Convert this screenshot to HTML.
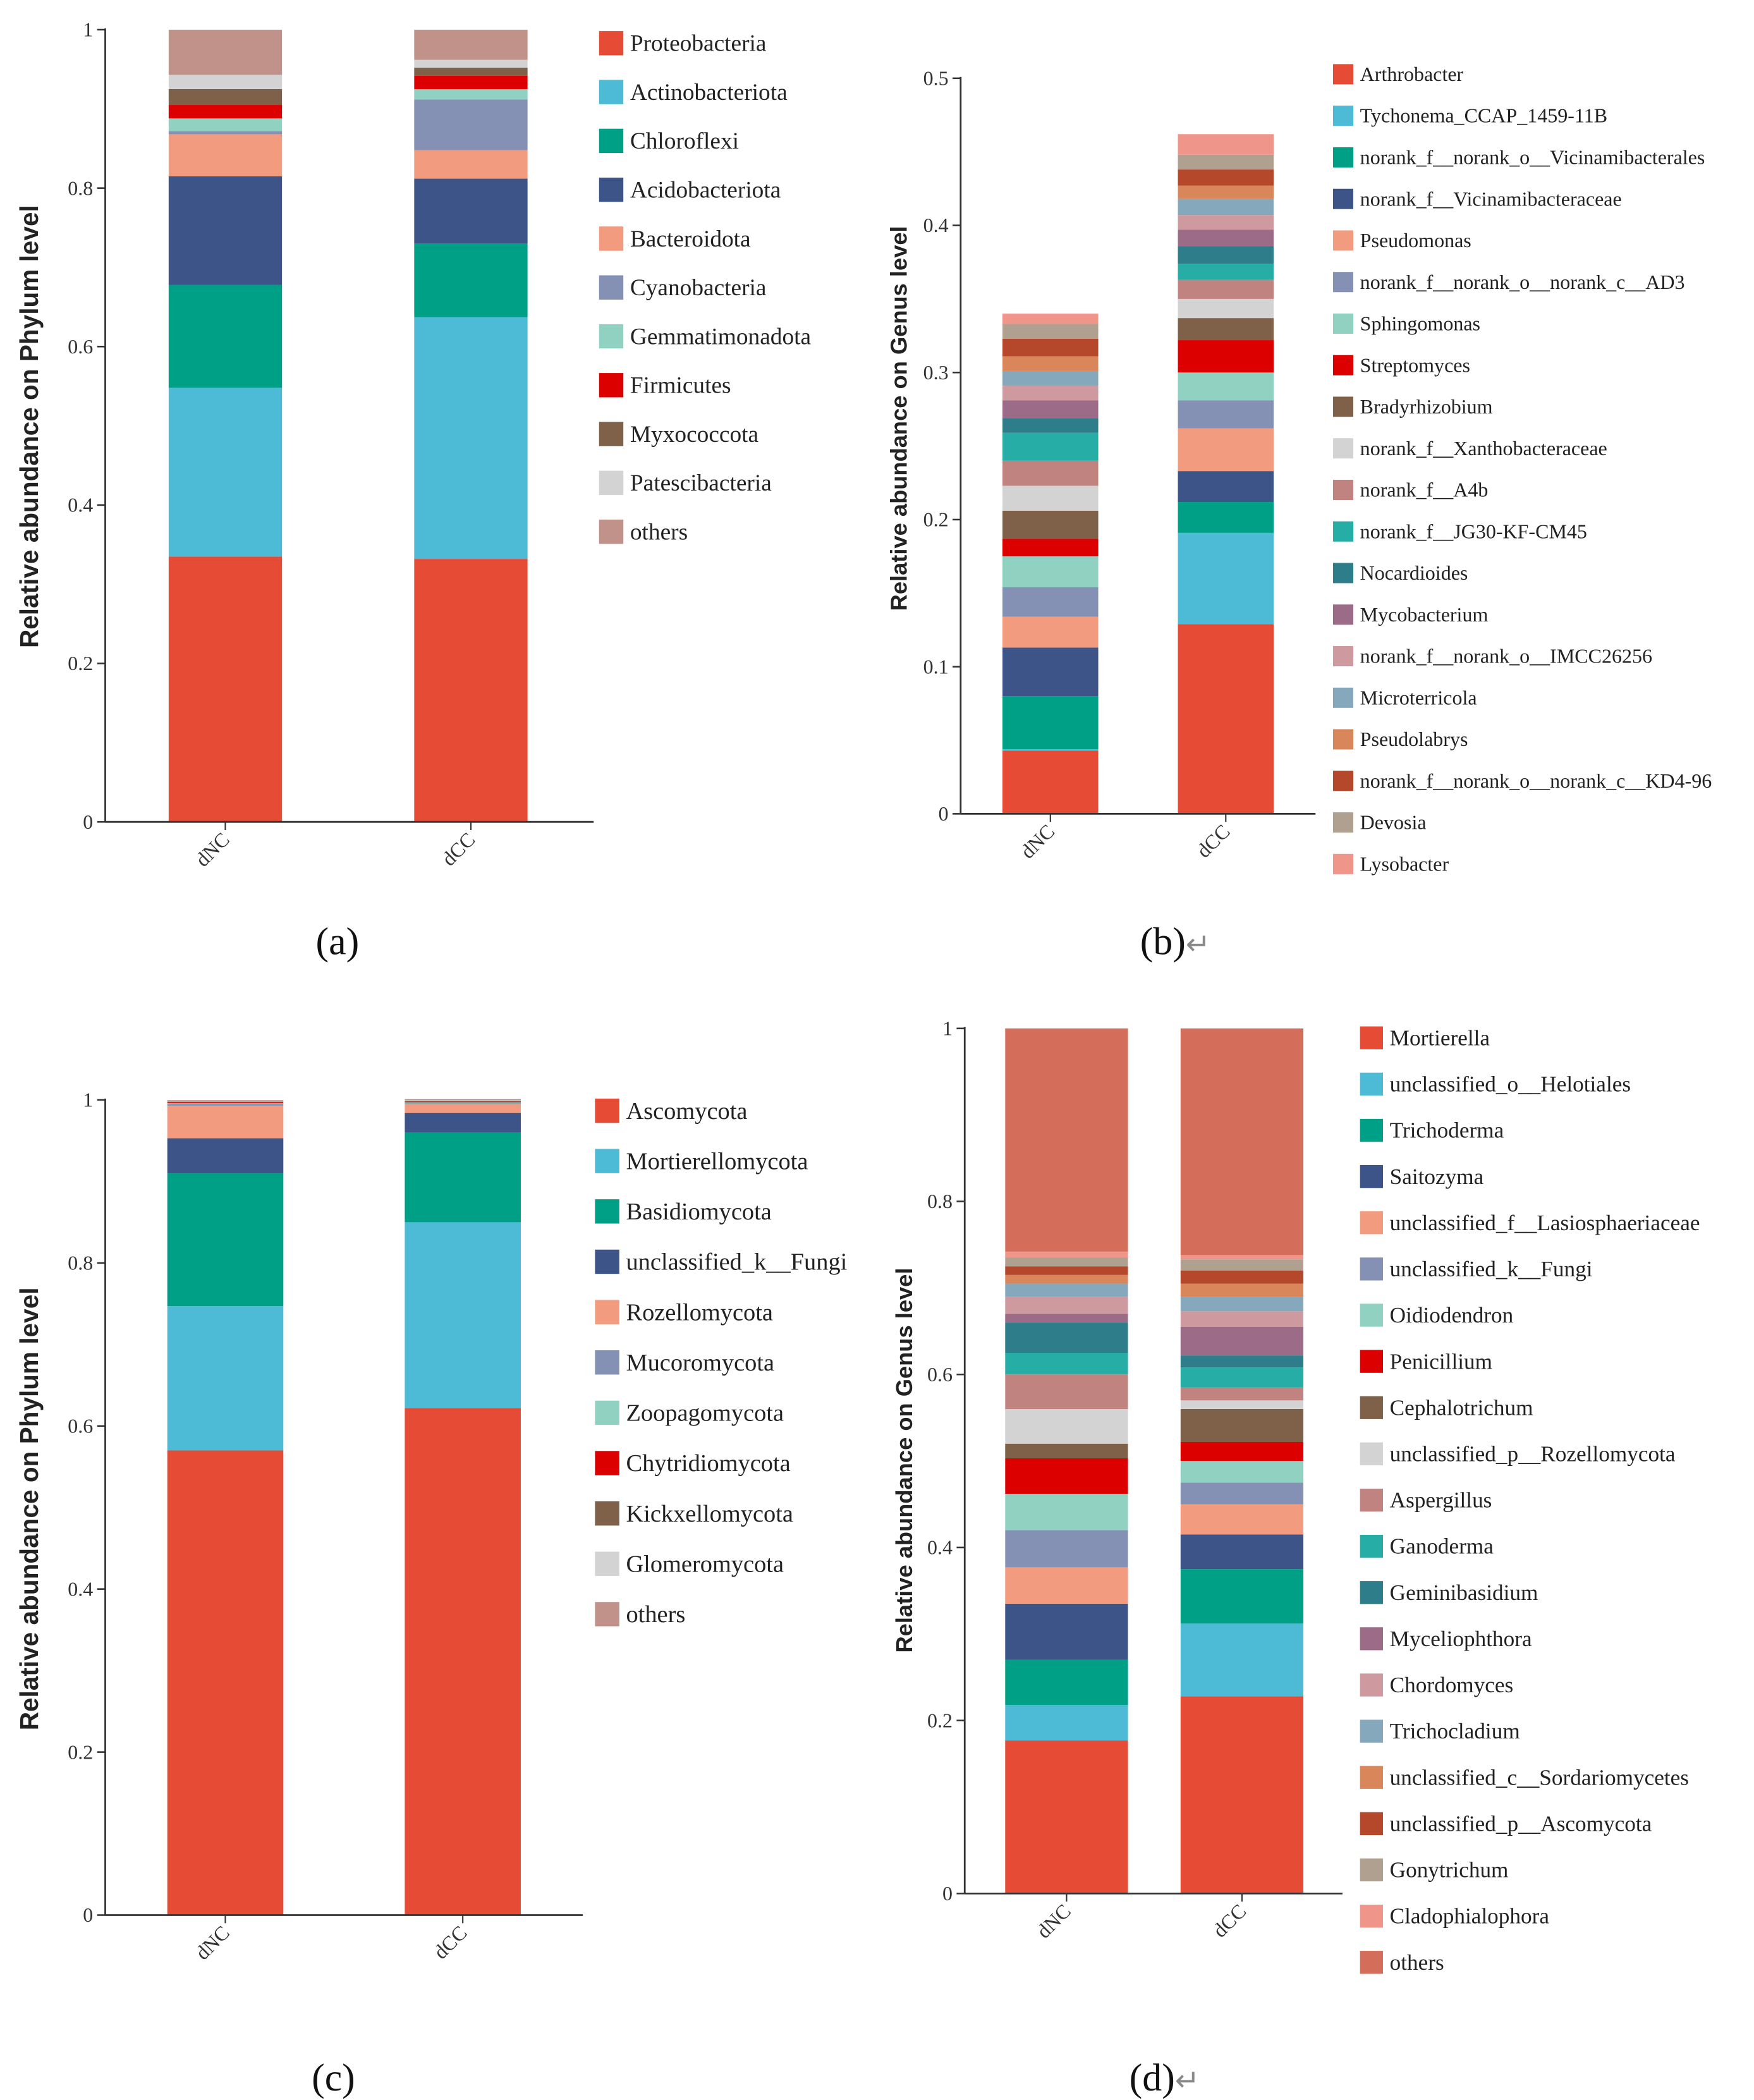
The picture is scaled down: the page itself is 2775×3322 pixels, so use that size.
<!DOCTYPE html>
<html><head><meta charset="utf-8">
<style>
html,body{margin:0;padding:0;background:#fff;}
svg{display:block;}
.tk{font-family:"Liberation Serif",serif;font-size:15px;fill:#333;}
.lg{font-family:"Liberation Serif",serif;fill:#222;}
.tt{font-family:"Liberation Sans",sans-serif;font-weight:bold;fill:#222;}
.cap{font-family:"Liberation Serif",serif;font-size:29px;fill:#111;}
</style></head>
<body>
<svg id="fig" width="2775" height="3322" viewBox="0 0 1300 1556" preserveAspectRatio="none" xmlns="http://www.w3.org/2000/svg">
<text class="cap" x="234" y="707">(a)</text>
<text class="cap" x="845" y="707">(b)<tspan fill="#888" font-size="22">↵</tspan></text>
<text class="cap" x="231" y="1549">(c)</text>
<text class="cap" x="837" y="1549">(d)<tspan fill="#888" font-size="22">↵</tspan></text>
</svg>
<script>
const samples = ["dNC","dCC"];
const palA = ["#E64B35","#4DBBD5","#00A087","#3C5488","#F39B7F","#8491B4","#91D1C2","#DC0000","#7E6148","#D3D3D3","#C0928A"];
const namesA = ["Proteobacteria","Actinobacteriota","Chloroflexi","Acidobacteriota","Bacteroidota","Cyanobacteria","Gemmatimonadota","Firmicutes","Myxococcota","Patescibacteria","others"];
const dncA = [0.335,0.213,0.130,0.137,0.053,0.004,0.016,0.017,0.020,0.018,0.057];
const dccA = [0.332,0.305,0.093,0.082,0.036,0.064,0.013,0.017,0.010,0.010,0.038];
const ticksA = ["0","0.2","0.4","0.6","0.8","1"];

const palB = ["#E64B35","#4DBBD5","#00A087","#3C5488","#F39B7F","#8491B4","#91D1C2","#DC0000","#7E6148","#D3D3D3","#C0837F","#26ADA6","#2E7D8A","#9C6B87","#CE9AA0","#85A8BC","#D9875A","#B5482B","#B0A090","#F0958A"];
const namesB = ["Arthrobacter","Tychonema_CCAP_1459-11B","norank_f__norank_o__Vicinamibacterales","norank_f__Vicinamibacteraceae","Pseudomonas","norank_f__norank_o__norank_c__AD3","Sphingomonas","Streptomyces","Bradyrhizobium","norank_f__Xanthobacteraceae","norank_f__A4b","norank_f__JG30-KF-CM45","Nocardioides","Mycobacterium","norank_f__norank_o__IMCC26256","Microterricola","Pseudolabrys","norank_f__norank_o__norank_c__KD4-96","Devosia","Lysobacter"];
const dncB = [0.043,0.001,0.036,0.033,0.021,0.020,0.021,0.012,0.019,0.017,0.017,0.019,0.010,0.012,0.010,0.010,0.010,0.012,0.010,0.007];
const dccB = [0.129,0.062,0.021,0.021,0.029,0.019,0.019,0.022,0.015,0.013,0.013,0.011,0.012,0.011,0.010,0.011,0.009,0.011,0.010,0.014];
const ticksB = ["0","0.1","0.2","0.3","0.4","0.5"];

const palC = palA;
const namesC = ["Ascomycota","Mortierellomycota","Basidiomycota","unclassified_k__Fungi","Rozellomycota","Mucoromycota","Zoopagomycota","Chytridiomycota","Kickxellomycota","Glomeromycota","others"];
const dncC = [0.570,0.177,0.163,0.043,0.040,0.002,0.001,0.001,0.001,0.001,0.001];
const dccC = [0.622,0.228,0.110,0.024,0.011,0.001,0.001,0.001,0.001,0.001,0.001];
const ticksC = ["0","0.2","0.4","0.6","0.8","1"];

const palD = ["#E64B35","#4DBBD5","#00A087","#3C5488","#F39B7F","#8491B4","#91D1C2","#DC0000","#7E6148","#D3D3D3","#C0837F","#26ADA6","#2E7D8A","#9C6B87","#CE9AA0","#85A8BC","#D9875A","#B5482B","#B0A090","#F0958A","#D46E5A"];
const namesD = ["Mortierella","unclassified_o__Helotiales","Trichoderma","Saitozyma","unclassified_f__Lasiosphaeriaceae","unclassified_k__Fungi","Oidiodendron","Penicillium","Cephalotrichum","unclassified_p__Rozellomycota","Aspergillus","Ganoderma","Geminibasidium","Myceliophthora","Chordomyces","Trichocladium","unclassified_c__Sordariomycetes","unclassified_p__Ascomycota","Gonytrichum","Cladophialophora","others"];
const dncD = [0.177,0.041,0.052,0.065,0.042,0.043,0.042,0.041,0.017,0.040,0.040,0.025,0.035,0.010,0.020,0.015,0.010,0.010,0.010,0.007,0.258];
const dccD = [0.228,0.084,0.063,0.040,0.035,0.025,0.025,0.022,0.038,0.010,0.015,0.023,0.014,0.033,0.018,0.017,0.015,0.015,0.013,0.005,0.262];
const ticksD = ["0","0.2","0.4","0.6","0.8","1"];

const NS="http://www.w3.org/2000/svg";
const svg=document.getElementById('fig');
function mk(tag,attrs,parent){const e=document.createElementNS(NS,tag);for(const k in attrs)e.setAttribute(k,attrs[k]);(parent||svg).appendChild(e);return e;}

function panel(p){
  const g=mk('g',{});
  
  
  const y=v=>p.y0-(v/p.max)*(p.y0-p.y1);
  // bars
  [p.d1,p.d2].forEach((vals,si)=>{
    let cum=0;
    const bx=p.bx[si];
    vals.forEach((v,i)=>{
      const r=mk('rect',{x:bx,y:y(cum+v),width:p.bw,height:Math.max(0,y(cum)-y(cum+v)),fill:p.pal[i]},g);
      
      
      cum+=v;
    });
    const cx=bx+p.bw/2;
    mk('line',{x1:cx,y1:p.y0,x2:cx,y2:p.y0+6,stroke:'#333','stroke-width':1},g);
    const t=mk('text',{class:'tk',x:cx+4,y:p.y0+14,'text-anchor':'end',transform:`rotate(-45 ${cx+4} ${p.y0+14})`},g);
    t.textContent=samples[si];
    
    
  });
  // axes
  const ya=mk('line',{x1:p.ax,y1:p.y1-1,x2:p.ax,y2:p.y0,stroke:'#333','stroke-width':1.3},g);
  
  
  const xa=mk('line',{x1:p.ax,y1:p.y0,x2:p.xend,y2:p.y0,stroke:'#333','stroke-width':1.3},g);
  
  
  p.ticks.forEach(tl=>{
    const v=parseFloat(tl), yy=y(v);
    mk('line',{x1:p.ax-6,y1:yy,x2:p.ax,y2:yy,stroke:'#333','stroke-width':1.2},g);
    const t=mk('text',{class:'tk',x:p.ax-9,y:yy+5,'text-anchor':'end'},g);
    t.textContent=tl;
    
    
  });
  const tt=mk('text',{class:'tt','font-size':p.tfs,x:p.tx,y:p.ty,'text-anchor':'middle',transform:`rotate(-90 ${p.tx} ${p.ty})`},g);
  tt.textContent=p.title;
  
  
  // legend
  p.names.forEach((n,i)=>{
    const cy=p.ly+i*p.ls;
    const r=mk('rect',{x:p.lx,y:cy-p.sq/2,width:p.sq,height:p.sq,fill:p.pal[i]},g);
    
    
    const t=mk('text',{class:'lg','font-size':p.lfs,x:p.lx+p.sq+5,y:cy+p.lfs*0.33},g);
    t.textContent=n;
    
    
  });
}
panel({id:'a',pal:palA,names:namesA,d1:dncA,d2:dccA,ticks:ticksA,max:1,y0:609,y1:22,ax:78,xend:440,bx:[125,307],bw:84,title:'Relative abundance on Phylum level',tfs:19,tx:28,ty:316,lx:444,ly:32,ls:36.2,sq:18,lfs:17.5});
panel({id:'b',pal:palB,names:namesB,d1:dncB,d2:dccB,ticks:ticksB,max:0.5,y0:603,y1:58,ax:712,xend:975,bx:[743,873],bw:71,title:'Relative abundance on Genus level',tfs:17,tx:672,ty:310,lx:988,ly:55,ls:30.8,sq:15,lfs:15});
panel({id:'c',pal:palC,names:namesC,d1:dncC,d2:dccC,ticks:ticksC,max:1,y0:1419,y1:815,ax:78,xend:432,bx:[124,300],bw:86,title:'Relative abundance on Phylum level',tfs:19,tx:28,ty:1118,lx:441,ly:823,ls:37.3,sq:18,lfs:18});
panel({id:'d',pal:palD,names:namesD,d1:dncD,d2:dccD,ticks:ticksD,max:1,y0:1403,y1:762,ax:715,xend:995,bx:[745,875],bw:91,title:'Relative abundance on Genus level',tfs:17,tx:676,ty:1082,lx:1008,ly:769,ls:34.25,sq:17,lfs:16.5});
</script>
</body></html>
